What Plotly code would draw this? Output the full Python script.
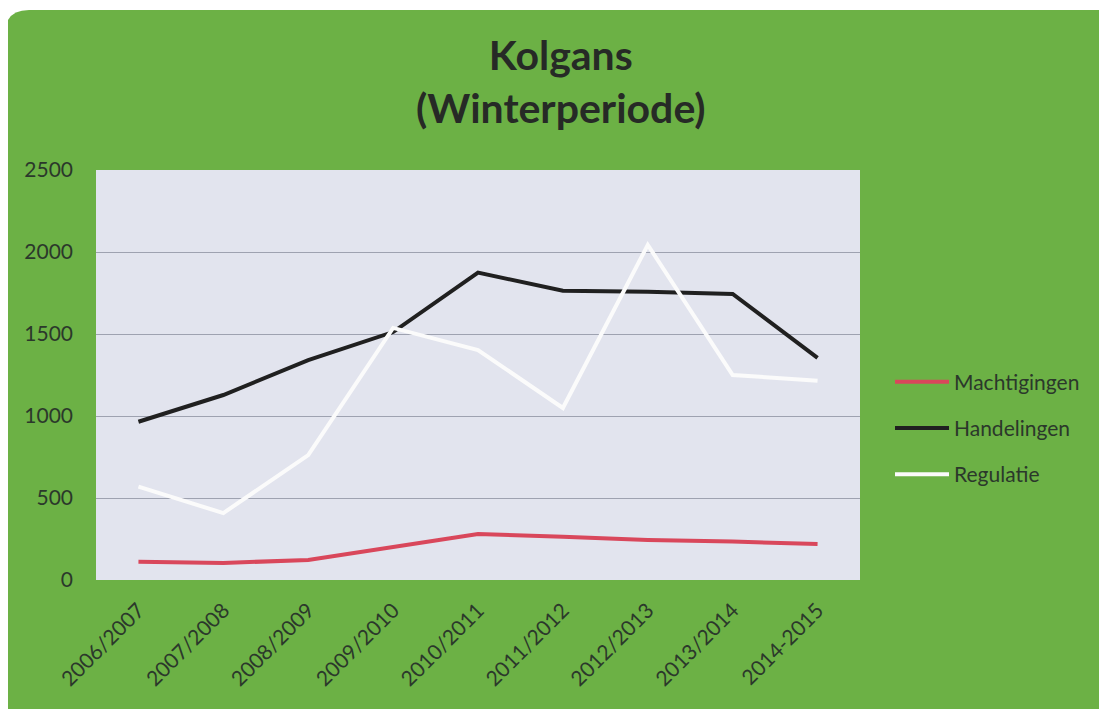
import plotly.graph_objects as go

# winter seasons on the x axis
seizoenen = ["2006/2007", "2007/2008", "2008/2009", "2009/2010", "2010/2011",
             "2011/2012", "2012/2013", "2013/2014", "2014-2015"]

# values
machtigingen = [112, 104, 122, 200, 280, 264, 244, 234, 219]
handelingen = [965, 1128, 1341, 1512, 1874, 1764, 1758, 1744, 1354]
regulatie = [569, 408, 762, 1537, 1402, 1049, 2043, 1250, 1215]

y_ticks = [0, 500, 1000, 1500, 2000, 2500]

# the page body has an 8px margin, so the figure sits at (8, 8)
OFF = 8
W, H = 1107 - OFF, 709 - OFF
ML, MR, MT, MB = 96 - OFF, 247, 170 - OFF, 129
PW, PH = W - ML - MR, H - MT - MB

GREEN = "#6cb145"
PLOT_BG = "#e2e4ee"
TXT = "#2b382b"


def px(x):
    # page pixel -> paper x
    return (x - OFF - ML) / PW


def py(y):
    # page pixel -> paper y
    return (H - MB - (y - OFF)) / PH


fig = go.Figure()

series = [
    ("Machtigingen", machtigingen, "#d9475b"),
    ("Handelingen", handelingen, "#202020"),
    ("Regulatie", regulatie, "#fbfbfb"),
]
for name, vals, col in series:
    fig.add_trace(go.Scatter(
        x=seizoenen, y=vals, name=name, mode="lines",
        line=dict(color=col, width=4), legendgroup=name,
    ))

# rounded green card behind everything, then the plot area fill
L, T, R, B, r = 5, 10, 1140, 740, 24
card = (f"M {px(L)},{py(B)} L {px(L)},{py(T + r)} "
        f"Q {px(L)},{py(T)} {px(L + r)},{py(T)} "
        f"L {px(R)},{py(T)} L {px(R)},{py(B)} Z")

fig.update_layout(
    width=W, height=H,
    margin=dict(l=ML, r=MR, t=MT, b=MB, autoexpand=False),
    paper_bgcolor="white",
    plot_bgcolor="rgba(0,0,0,0)",
    font=dict(family="Lato", color=TXT, size=20),
    shapes=[
        dict(type="path", path=card, xref="paper", yref="paper",
             fillcolor=GREEN, line=dict(width=0), layer="below"),
        dict(type="rect", x0=0, x1=1, y0=0, y1=1, xref="paper", yref="paper",
             fillcolor=PLOT_BG, line=dict(width=0), layer="below"),
    ],
    annotations=[dict(
        text="<b>Kolgans<br>(Winterperiode)</b>",
        x=px(561), y=py(81), xref="paper", yref="paper",
        xanchor="center", yanchor="middle", showarrow=False,
        font=dict(family="Lato", size=41, color="#262a26"),
    )],
    legend=dict(
        x=px(890), y=py(428), xanchor="left", yanchor="middle",
        bgcolor="rgba(0,0,0,0)", font=dict(size=21, color=TXT),
        tracegroupgap=16, traceorder="grouped", itemwidth=54,
    ),
    showlegend=True,
)

fig.update_xaxes(
    type="category", range=[-0.5, len(seizoenen) - 0.5],
    showgrid=False, zeroline=False, showline=False, automargin=False,
    tickangle=-45, tickfont=dict(size=21, color=TXT),
    ticklabelstandoff=13,
)
fig.update_yaxes(
    range=[0, 2500], tickvals=y_ticks,
    showgrid=True, gridcolor="#9ea2b0", gridwidth=1,
    zeroline=False, showline=False, automargin=False,
    tickfont=dict(size=21, color=TXT), ticklabelstandoff=22,
)

fig.write_html("out.html")
